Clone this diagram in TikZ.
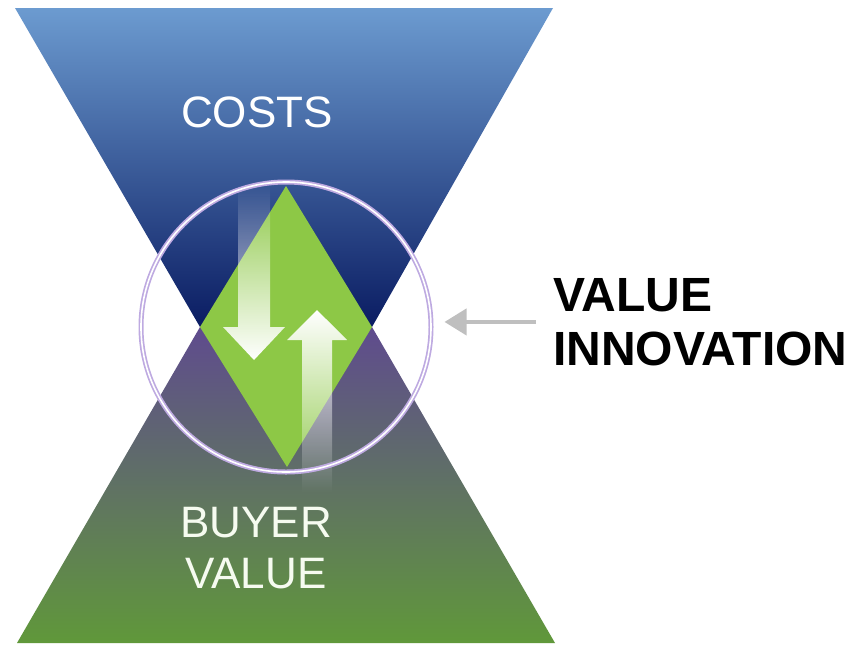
\documentclass[tikz,border=0pt]{standalone}
\usepackage{fontspec}
\newfontfamily\labfont{Liberation Sans}
\usetikzlibrary{arrows.meta, fadings}

\definecolor{skyblue}{RGB}{108,155,208}
\definecolor{midblue}{RGB}{52,90,155}
\definecolor{navy}{RGB}{10,28,98}
\definecolor{dusk}{RGB}{95,75,142}
\definecolor{slate}{RGB}{102,106,102}
\definecolor{grass}{RGB}{96,152,58}
\definecolor{lime}{RGB}{141,200,70}
\definecolor{lilac}{RGB}{190,170,225}

\tikzfading[name=fade in, top color=transparent!100,
    middle color=transparent!45, bottom color=transparent!0]
\tikzfading[name=fade out, top color=transparent!0,
    middle color=transparent!45, bottom color=transparent!100]

\begin{document}
\begin{tikzpicture}[x=1pt, y=-1pt,
    T/.style={font=\labfont\fontsize{44}{51}\selectfont, text=white,
        inner sep=0pt, align=center},
    L/.style={font=\labfont\bfseries\fontsize{48}{54}\selectfont,
        inner sep=0pt, align=left},
    ring/.style={circle, minimum size=290pt, inner sep=0pt}]
    \useasboundingbox (0,0) rectangle (856,646);
    % hourglass
    \shade[top color=skyblue, middle color=midblue, bottom color=navy]
        (15,8) -- (553,8) -- (372,327) -- (200,327) -- cycle;
    \shade[top color=dusk, middle color=slate, bottom color=grass]
        (200,327) -- (372,327) -- (555,643) -- (17,643) -- cycle;
    \fill[lime] (286,186) -- (372,327) -- (287,467) -- (200,327) -- cycle;
    % white arrows
    \fill[white, path fading=fade in] (238,185) -- (270,185) -- (270,327)
        -- (285,327) -- (254,360) -- (223,327) -- (238,327) -- cycle;
    \fill[white, path fading=fade out] (317,310) -- (347,340) -- (332,340)
        -- (332,492) -- (302,492) -- (302,340) -- (287,340) -- cycle;
    % circle
    \node[ring, draw=lilac, line width=5pt] (vi) at (286,327) {};
    \node[ring, draw=white, line width=1.6pt] at (vi) {};
    % labels
    \node[T, anchor=north] (costs) at (257,97) {COSTS};
    \node[T, anchor=north, text=white!92!lime] (buyer) at (256,507)
        {BUYER\\VALUE};
    \node[L, anchor=north west] (vilabel) at (553,278)
        {VALUE\\INNOVATION};
    \draw[line width=4pt, black!25, -{Triangle[length=22pt, width=26pt]}]
        ([xshift=-17pt]vilabel.west) -- ([xshift=11pt]vi.east |- vilabel.west);
\end{tikzpicture}
\end{document}
